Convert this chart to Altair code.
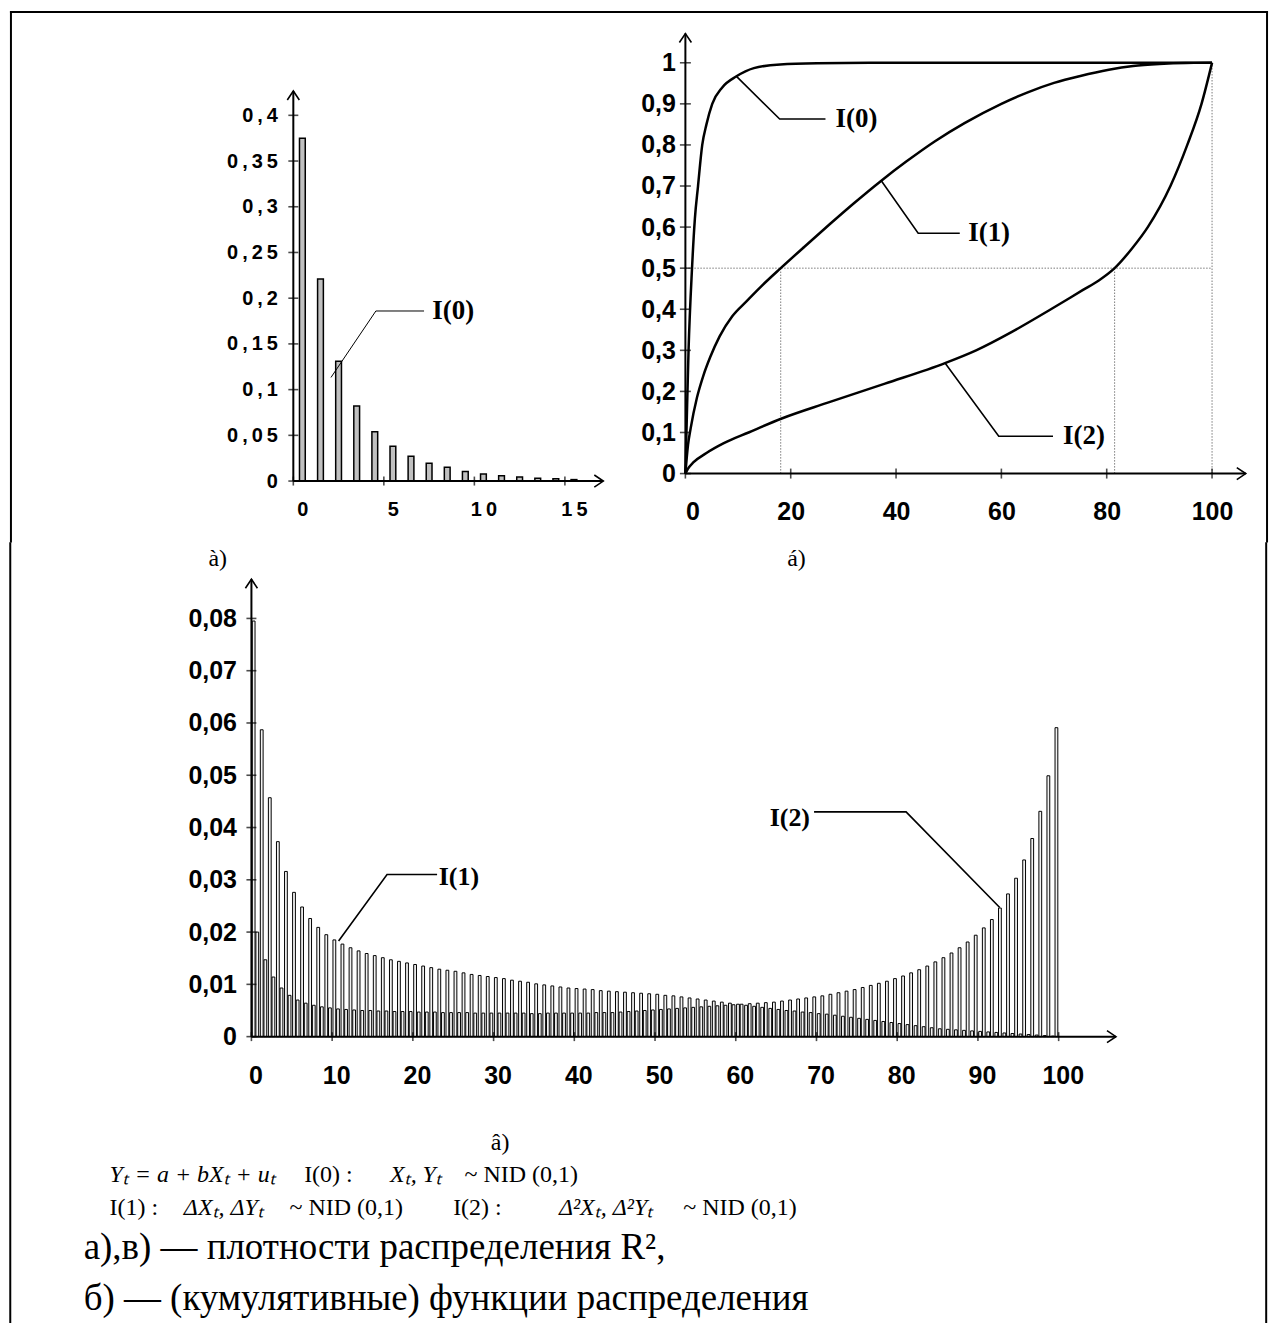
import altair as alt
import pandas as pd

# ---------------- data ----------------
# a) histogram of R^2 (percent bins), I(0)
hist_cat = list(range(16))
hist_val = [0.375, 0.221, 0.131, 0.082, 0.054, 0.038, 0.027, 0.0195,
            0.015, 0.0105, 0.0077, 0.0057, 0.0044, 0.0032, 0.0024, 0.0016]
hist_ticks = [-0.5, 4.5, 9.5, 14.5]
hist_labels = [0, 5, 10, 15]
hist_yvals = [0, 0.05, 0.1, 0.15, 0.2, 0.25, 0.3, 0.35, 0.4]

# b) cumulative distribution functions
cdf_i0_x = [0, 0.2, 0.6, 1.26, 1.8, 2.4, 3.2, 4.0, 5.1, 7.0, 9.7, 13.0, 18.0, 25.0, 35.0, 100.0]
cdf_i0_y = [0, 0.1, 0.3, 0.5, 0.62, 0.7, 0.8, 0.85, 0.9, 0.94, 0.967, 0.987, 0.996, 0.999, 1.0, 1.0]
cdf_i1_x = [0, 0.5, 1, 2.2, 3.4, 4.7, 6.5, 8.9, 11.5, 14.5, 18.1, 22.5, 27.5, 32, 37.2, 42,
            47.4, 53, 60, 65, 70, 75, 80.4, 85, 90, 95, 100]
cdf_i1_y = [0, 0.07, 0.11, 0.185, 0.238, 0.283, 0.334, 0.383, 0.418, 0.457, 0.5, 0.551, 0.608,
            0.658, 0.713, 0.76, 0.809, 0.853, 0.9, 0.928, 0.951, 0.968, 0.983, 0.992, 0.997,
            0.9995, 1.0]
cdf_i2_x = [0, 0.5, 1.5, 4, 7.3, 12, 18.3, 26.9, 37.9, 49.3, 55.2, 62, 69.4, 75.5, 78.5, 81.5,
            84.8, 87.8, 92.1, 95.3, 98, 100]
cdf_i2_y = [0, 0.012, 0.027, 0.05, 0.074, 0.1, 0.134, 0.172, 0.219, 0.269, 0.3, 0.345, 0.4,
            0.447, 0.47, 0.5, 0.548, 0.6, 0.7, 0.8, 0.9, 1.0]
cdf_xvals = [0, 20, 40, 60, 80, 100]
cdf_yvals = [0, 0.1, 0.2, 0.3, 0.4, 0.5, 0.6, 0.7, 0.8, 0.9, 1]
cdf_median_i1 = 18.1
cdf_median_i2 = 81.5

# c) densities, I(1) and I(2)
dens_cat = list(range(100))
dens_i1 = [0.0795, 0.0587, 0.0457, 0.0373, 0.0316, 0.0276, 0.0248, 0.0226, 0.0209, 0.0195,
           0.0185, 0.0177, 0.0170, 0.0164, 0.0159, 0.0155, 0.0151, 0.0147, 0.0144, 0.0141,
           0.0138, 0.0135, 0.0132, 0.0129, 0.0127, 0.0125, 0.0122, 0.0119, 0.0117, 0.0115,
           0.0113, 0.0111, 0.0108, 0.0106, 0.0104, 0.0101, 0.0099, 0.0097, 0.0095, 0.0093,
           0.0092, 0.0091, 0.0090, 0.0088, 0.0087, 0.0086, 0.0085, 0.0084, 0.0083, 0.0082,
           0.0081, 0.0079, 0.0078, 0.0076, 0.0074, 0.0072, 0.0070, 0.0068, 0.0066, 0.0064,
           0.0062, 0.0060, 0.0058, 0.0056, 0.0054, 0.0052, 0.0050, 0.0049, 0.0047, 0.0046,
           0.0044, 0.0043, 0.0041, 0.0039, 0.0037, 0.0035, 0.0033, 0.0031, 0.0029, 0.0027,
           0.0025, 0.0023, 0.0021, 0.0019, 0.0017, 0.0015, 0.0014, 0.0013, 0.0012, 0.0011,
           0.0010, 0.0009, 0.0008, 0.0007, 0.0006, 0.0005, 0.0004, 0.0003, 0.0002, 0.0001]
dens_i2 = [0.0200, 0.0147, 0.0114, 0.0093, 0.0079, 0.0070, 0.0064, 0.0060, 0.0057, 0.0055,
           0.0053, 0.0052, 0.0051, 0.0050, 0.0050, 0.0049, 0.0049, 0.0048, 0.0048, 0.0048,
           0.0047, 0.0047, 0.0047, 0.0046, 0.0046, 0.0046, 0.0046, 0.0045, 0.0045, 0.0045,
           0.0045, 0.0045, 0.0045, 0.0045, 0.0044, 0.0044, 0.0045, 0.0045, 0.0045, 0.0045,
           0.0045, 0.0045, 0.0046, 0.0046, 0.0046, 0.0047, 0.0048, 0.0049, 0.0050, 0.0051,
           0.0052, 0.0053, 0.0054, 0.0055, 0.0056, 0.0057, 0.0058, 0.0059, 0.0060, 0.0061,
           0.0062, 0.0063, 0.0064, 0.0065, 0.0066, 0.0068, 0.0070, 0.0072, 0.0074, 0.0076,
           0.0078, 0.0081, 0.0084, 0.0087, 0.0090, 0.0094, 0.0098, 0.0102, 0.0106, 0.0111,
           0.0116, 0.0122, 0.0128, 0.0135, 0.0143, 0.0151, 0.0160, 0.0170, 0.0181, 0.0194,
           0.0208, 0.0224, 0.0246, 0.0273, 0.0303, 0.0338, 0.0379, 0.0431, 0.0499, 0.0591]
dens_xvals = [0, 10, 20, 30, 40, 50, 60, 70, 80, 90, 100]
dens_ticks = [-0.5, 9.5, 19.5, 29.5, 39.5, 49.5, 59.5, 69.5, 79.5, 89.5, 99.5]
dens_yvals = [0, 0.01, 0.02, 0.03, 0.04, 0.05, 0.06, 0.07, 0.08]

# ---------------- styling ----------------
SANS_N = "Liberation Sans Narrow, Arial Narrow, Liberation Sans, Arial, sans-serif"
SANS = "Liberation Sans, Arial, sans-serif"
SERIF = "Liberation Serif, Times New Roman, serif"
UP = "M-0.67,1L0,0L0.67,1"
RIGHT = "M-1,-0.67L0,0L-1,0.67"
COMMA = "replace(toString(datum.value), '.', ',')"
SPACED_COMMA = "join(split(replace(toString(datum.value), '.', ','), ''), '\u2009')"
SPACED = "join(split(toString(datum.value), ''), '\u2009')"


def lab_axis(values, font, size, pad, expr):
    return alt.Axis(values=values, ticks=False, domain=False, grid=False, title=None,
                    labelFont=font, labelFontSize=size, labelFontWeight="bold",
                    labelColor="black", labelPadding=pad, labelExpr=expr, labelAngle=0,
                    labelOverlap=False)


class Frame:
    """x/y scales and axes shared by every layer of one panel"""

    def __init__(self, xdom, ydom, xaxis, yaxis):
        self.xs = alt.Scale(domain=xdom, nice=False, zero=False, padding=0)
        self.ys = alt.Scale(domain=ydom, nice=False, zero=False, padding=0)
        self.xa = xaxis
        self.ya = yaxis

    def x(self, field):
        return alt.X(field, type="quantitative", scale=self.xs, axis=self.xa)

    def y(self, field):
        return alt.Y(field, type="quantitative", scale=self.ys, axis=self.ya)


def axis_parts(f, x0, x1, y0, y1, xticks, yticks, xsize, ysize):
    rules = pd.DataFrame({"x": [x0, x0], "x2": [x1, x0], "y": [y0, y0], "y2": [y0, y1]})
    r = alt.Chart(rules).mark_rule(color="black", strokeWidth=2).encode(
        x=f.x("x"), x2="x2", y=f.y("y"), y2="y2")
    tx = alt.Chart(pd.DataFrame({"x": xticks, "y": [y0] * len(xticks)})).mark_tick(
        orient="vertical", size=xsize, thickness=1.6, color="black").encode(x=f.x("x"), y=f.y("y"))
    ty = alt.Chart(pd.DataFrame({"x": [x0] * len(yticks), "y": yticks})).mark_tick(
        orient="horizontal", size=ysize, thickness=1.6, color="black").encode(x=f.x("x"), y=f.y("y"))
    au = alt.Chart(pd.DataFrame({"x": [x0], "y": [y1]})).mark_point(
        shape=UP, size=324, filled=False, stroke="black", strokeWidth=1.6, opacity=1).encode(
        x=f.x("x"), y=f.y("y"))
    ar = alt.Chart(pd.DataFrame({"x": [x1], "y": [y0]})).mark_point(
        shape=RIGHT, size=324, filled=False, stroke="black", strokeWidth=1.6, opacity=1).encode(
        x=f.x("x"), y=f.y("y"))
    return [r, tx, ty, au, ar]


def leader(f, pts, width):
    df = pd.DataFrame({"x": [p[0] for p in pts], "y": [p[1] for p in pts],
                       "g": [p[2] for p in pts], "o": list(range(len(pts)))})
    return alt.Chart(df).mark_line(color="black", strokeWidth=width).encode(
        x=f.x("x"), y=f.y("y"), detail="g:N", order="o:Q")


def texts(f, df, **kw):
    return alt.Chart(df).mark_text(color="black", **kw).encode(x=f.x("x"), y=f.y("y"), text="t:N")


def border(f, xl, xr, ytop, ybot, with_top):
    df = pd.DataFrame({"x": [xl, xr], "x2": [xl, xr], "y": [ytop, ytop], "y2": [ybot, ybot]})
    if with_top:
        df = pd.concat([df, pd.DataFrame({"x": [xl], "x2": [xr], "y": [ytop], "y2": [ytop]})])
    return alt.Chart(df).mark_rule(color="black", strokeWidth=2, strokeCap="square").encode(
        x=f.x("x"), x2="x2", y=f.y("y"), y2="y2")


# ---------------- a) top-left histogram ----------------
TL = Frame([-0.5, 16.62], [0, 0.48947],
           lab_axis(hist_labels, SANS, 20, 19, SPACED),
           lab_axis(hist_yvals, SANS, 20, 16, SPACED_COMMA))
hist_df = pd.DataFrame({"x": hist_cat, "y": hist_val})
tl_bars = alt.Chart(hist_df).mark_bar(size=5.8, fill="#c0c0c0", stroke="black", strokeWidth=1.5).encode(
    x=TL.x("x"), y=TL.y("y"))
tl_layers = [tl_bars] + axis_parts(TL, -0.5, 16.62, 0, 0.4266, hist_ticks, hist_yvals, 9, 10)
tl_layers.append(leader(TL, [(1.58, 0.1133, "a"), (4.06, 0.186, "a"), (6.72, 0.186, "a")], 1))
tl_layers.append(texts(TL, pd.DataFrame({"x": [7.18], "y": [0.186], "t": ["I(0)"]}),
                       align="left", baseline="middle", font=SERIF, fontWeight="bold", fontSize=27))
top_left = alt.layer(*tl_layers).properties(width=310.7, height=448.6)

# ---------------- b) top-right CDFs ----------------
TR = Frame([0, 106.4], [0, 1.0712],
           lab_axis(cdf_xvals, SANS_N, 25, 26, "toString(datum.value)"),
           lab_axis(cdf_yvals, SANS_N, 25, 10, COMMA))
cdf_rows = []
for name, xsr, ysr in (("I(0)", cdf_i0_x, cdf_i0_y), ("I(1)", cdf_i1_x, cdf_i1_y), ("I(2)", cdf_i2_x, cdf_i2_y)):
    for k, (a, b) in enumerate(zip(xsr, ysr)):
        cdf_rows.append({"x": a, "y": b, "s": name, "o": k})
cdf_df = pd.DataFrame(cdf_rows)
guides = pd.DataFrame({"x": [0, cdf_median_i1, cdf_median_i2, 100],
                       "x2": [100, cdf_median_i1, cdf_median_i2, 100],
                       "y": [0.5, 0, 0, 0], "y2": [0.5, 0.5, 0.5, 1]})
tr_guides = alt.Chart(guides).mark_rule(color="#7a7a7a", strokeWidth=1, strokeDash=[1.5, 1.5]).encode(
    x=TR.x("x"), x2="x2", y=TR.y("y"), y2="y2")
tr_lines = alt.Chart(cdf_df).mark_line(color="black", strokeWidth=2.5, interpolate="monotone").encode(
    x=TR.x("x"), y=TR.y("y"), detail="s:N", order="o:Q")
tr_layers = [tr_guides, tr_lines] + axis_parts(TR, 0, 106.4, 0, 1.0711, cdf_xvals, cdf_yvals, 10, 11)
tr_layers.append(leader(TR, [
    (9.7, 0.967, "a"), (17.9, 0.863, "a"), (26.6, 0.863, "a"),
    (37.2, 0.713, "b"), (44.2, 0.585, "b"), (52.1, 0.585, "b"),
    (49.3, 0.269, "c"), (59.5, 0.091, "c"), (69.8, 0.091, "c")], 1.6))
tr_layers.append(texts(TR, pd.DataFrame({"x": [28.5, 53.7, 71.7], "y": [0.863, 0.585, 0.091],
                                         "t": ["I(0)", "I(1)", "I(2)"]}),
                       align="left", baseline="middle", font=SERIF, fontWeight="bold", fontSize=27))
# upper part of the page frame (down to y = 540 px)
tr_layers.append(border(TR, -128.06, 110.44, 1.12385, -0.16561, True))
top_right = alt.layer(*tr_layers).properties(width=561.7, height=441.1)

# ---------------- c) bottom densities ----------------
BT = Frame([-0.5, 106.6], [0, 0.0875],
           lab_axis(dens_xvals, SANS_N, 25, 27, "toString(datum.value)"),
           lab_axis(dens_yvals, SANS_N, 25, 15, COMMA))
d1 = pd.DataFrame({"cat": dens_cat, "y": dens_i1})
d1["x"] = d1["cat"] - 0.225
d2 = pd.DataFrame({"cat": dens_cat, "y": dens_i2})
d2["x"] = d2["cat"] + 0.225
bt_b1 = alt.Chart(d1).mark_bar(size=2.8, fill="#f2f2f2", stroke="black", strokeWidth=1).encode(
    x=BT.x("x"), y=BT.y("y"))
bt_b2 = alt.Chart(d2).mark_bar(size=2.8, fill="#f2f2f2", stroke="black", strokeWidth=1).encode(
    x=BT.x("x"), y=BT.y("y"))
bt_layers = [bt_b1, bt_b2] + axis_parts(BT, -0.5, 106.6, 0, 0.0875, dens_ticks, dens_yvals, 9, 10)
bt_layers.append(leader(BT, [
    (10.3, 0.0183, "a"), (16.3, 0.031, "a"), (22.5, 0.031, "a"),
    (69.2, 0.043, "b"), (80.6, 0.043, "b"), (92.2, 0.0247, "b")], 1.6))
bt_layers.append(texts(BT, pd.DataFrame({"x": [22.7, 63.7], "y": [0.0305, 0.0418],
                                         "t": ["I(1)", "I(2)"]}),
                       align="left", baseline="middle", font=SERIF, fontWeight="bold", fontSize=26))
# panel captions (à) under a), á) under b), â) under c))
bt_layers.append(texts(BT, pd.DataFrame({"x": [-4.671, 67.02, 30.3], "y": [0.09132, 0.09132, -0.0203],
                                         "t": ["à)", "á)", "â)"]}),
                       align="center", baseline="middle", font=SERIF, fontSize=24))
# formula lines (italic and roman pieces)
f_ital = pd.DataFrame({
    "x": [-18.08, 16.67, -8.87, 37.59],
    "y": [-0.02643, -0.02643, -0.03273, -0.03273],
    "t": ["Yₜ = a + bXₜ + uₜ", "Xₜ, Yₜ", "ΔXₜ, ΔYₜ", "Δ²Xₜ, Δ²Yₜ"]})
f_rom = pd.DataFrame({
    "x": [6.03, 25.9, -18.08, 4.23, 24.49, 53.0],
    "y": [-0.02643, -0.02643, -0.03273, -0.03273, -0.03273, -0.03273],
    "t": ["I(0) :", "~ NID (0,1)", "I(1) :", "~ NID (0,1)", "I(2) :", "~ NID (0,1)"]})
bt_layers.append(texts(BT, f_ital, align="left", baseline="middle", font=SERIF,
                       fontStyle="italic", fontSize=24))
bt_layers.append(texts(BT, f_rom, align="left", baseline="middle", font=SERIF, fontSize=24))
cyr = pd.DataFrame({"x": [-21.28, -21.28], "y": [-0.04036, -0.05029],
                    "t": ["а),в) — плотности распределения R²,",
                          "б) — (кумулятивные) функции распределения"]})
bt_layers.append(texts(BT, cyr, align="left", baseline="middle", font=SERIF, fontSize=37))
# lower part of the page frame (from y = 542 px)
bt_layers.append(border(BT, -30.375, 125.21, 0.09437, -0.0564, False))
bottom = alt.layer(*bt_layers).properties(width=866.6, height=458.5)


def spacer(w):
    return alt.Chart(pd.DataFrame({"a": [0]})).mark_point(opacity=0).encode(
        x=alt.X("a:Q", axis=None), y=alt.Y("a:Q", axis=None)).properties(width=w, height=448.6)


top_row = alt.hconcat(spacer(41.6), top_left, spacer(82), top_right, spacing=0, bounds="flush")
chart = alt.vconcat(top_row, bottom, spacing=-2).properties(
    padding=0, background="white").configure_view(strokeWidth=0)

chart.save("out.html", embed_options={"renderer": "svg", "actions": False})
